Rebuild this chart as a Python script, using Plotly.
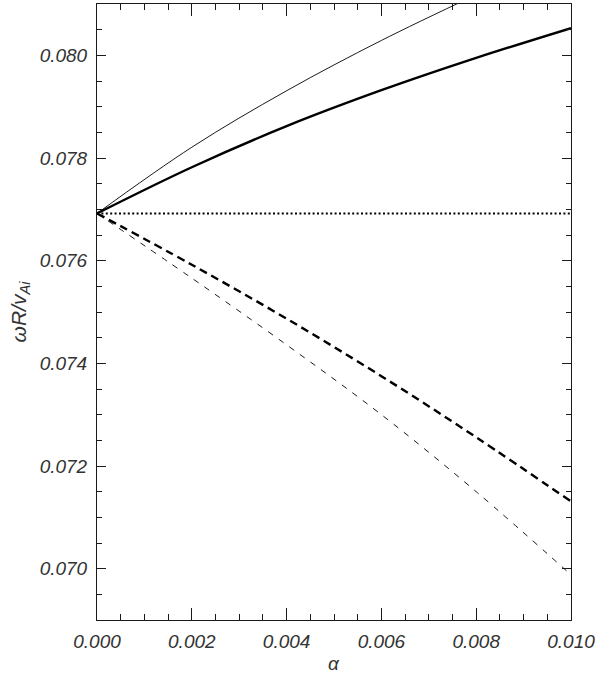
import plotly.graph_objects as go

alpha = [0.0, 0.002, 0.004, 0.006, 0.008, 0.010]

# thin solid (leaves the top of the frame near alpha = 0.0075)
alpha_thin_solid = [0.0, 0.002, 0.004, 0.006, 0.008]
w_thin_solid = [0.07692, 0.07821, 0.07931, 0.08029, 0.08118]

w_thick_solid = [0.07692, 0.07782, 0.07862, 0.07932, 0.07995, 0.08053]
w_dotted = [0.07692, 0.07692, 0.07692, 0.07692, 0.07692, 0.07692]
w_thick_dash = [0.07692, 0.07592, 0.07487, 0.07375, 0.07256, 0.07131]
w_thin_dash = [0.07692, 0.07566, 0.07436, 0.07300, 0.07150, 0.06988]

x_ticks = [0.000, 0.002, 0.004, 0.006, 0.008, 0.010]
x_ticktext = ["0.000", "0.002", "0.004", "0.006", "0.008", "0.010"]
y_ticks = [0.070, 0.072, 0.074, 0.076, 0.078, 0.080]
y_ticktext = ["0.070", "0.072", "0.074", "0.076", "0.078", "0.080"]

x_title = "<i>α</i>"
y_title = "<i>ωR/v<sub>Ai</sub></i>"

FONT = "Liberation Sans"
INK = "#1a1a1a"
TXT = "#333333"

fig = go.Figure()
fig.add_trace(go.Scatter(x=alpha_thin_solid, y=w_thin_solid, mode="lines",
                         line=dict(color="black", width=0.9, shape="spline")))
fig.add_trace(go.Scatter(x=alpha, y=w_thick_solid, mode="lines",
                         line=dict(color="black", width=2.4, shape="spline")))
fig.add_trace(go.Scatter(x=alpha, y=w_dotted, mode="lines",
                         line=dict(color="black", width=2, dash="2px,2.4px")))
fig.add_trace(go.Scatter(x=alpha, y=w_thick_dash, mode="lines",
                         line=dict(color="black", width=2.4, dash="8px,5px", shape="spline")))
fig.add_trace(go.Scatter(x=alpha, y=w_thin_dash, mode="lines",
                         line=dict(color="black", width=0.9, dash="6px,7px", shape="spline")))

axis_common = dict(
    showline=True, linecolor=INK, linewidth=1, mirror="allticks",
    ticks="inside", tickcolor=INK, tickwidth=1,
    showgrid=False, zeroline=False, automargin=False,
    tickfont=dict(family=FONT, size=19, color=TXT, style="italic"),
)

fig.update_xaxes(
    range=[0.0, 0.010], tickvals=x_ticks, ticktext=x_ticktext, ticklen=12,
    minor=dict(dtick=0.0005, tick0=0, ticks="inside", ticklen=6, tickcolor=INK, tickwidth=1, showgrid=False),
    ticklabelstandoff=4,
    **axis_common,
)
fig.update_yaxes(
    range=[0.069, 0.081], tickvals=y_ticks, ticktext=y_ticktext, ticklen=9,
    minor=dict(dtick=0.0005, tick0=0.069, ticks="inside", ticklen=5, tickcolor=INK, tickwidth=1, showgrid=False),
    title=dict(text=y_title, font=dict(family=FONT, size=21, color=TXT), standoff=7),
    ticklabelstandoff=5,
    **axis_common,
)

# x-axis title placed as a paper-anchored annotation to sit where the reference has it
fig.add_annotation(text=x_title, xref="paper", yref="paper", x=0.5, y=-0.070,
                   xanchor="center", yanchor="middle", showarrow=False, borderpad=0,
                   font=dict(family=FONT, size=19, color=TXT))

fig.update_layout(
    width=600, height=675,
    margin=dict(l=97, r=29, t=4, b=55),
    paper_bgcolor="white", plot_bgcolor="white",
    showlegend=False,
)

fig.write_html("out.html", config={"displayModeBar": False},
               post_script="document.body.style.margin='0px';document.body.style.padding='0px';")
